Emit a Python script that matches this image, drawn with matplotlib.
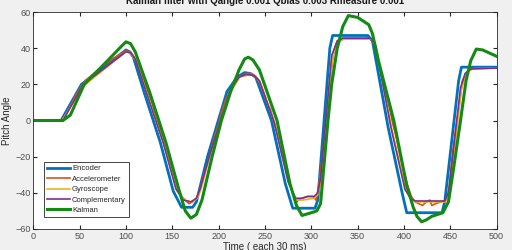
import matplotlib.pyplot as plt

plt.rcParams['font.family'] = ['Liberation Sans', 'DejaVu Sans']

# encoder (reference)
enc_t = [0, 30, 52, 100, 104, 108, 120, 137, 151, 160, 172, 176, 188, 209, 220, 228, 234, 240,
         257, 272, 280, 304, 307, 320, 323, 361, 366, 383, 398, 403, 441, 444, 459, 462, 500]
enc_y = [0, 0, 20, 39, 38, 35, 15, -12, -39, -48, -48, -45, -20, 16, 24, 26.5, 26, 24,
         0, -35, -48.5, -48.5, -44, 40, 47, 47, 44, -4, -40, -51, -51, -45, 22, 29.5, 29.5]

# accelerometer (noisy, stepped)
acc_t = [0, 30, 34, 40, 46, 52, 56, 70, 85, 100, 105, 110, 116, 120, 124, 128, 132, 136, 140,
         144, 148, 152, 156, 160, 164, 168, 172, 176, 180, 184, 188, 192, 196, 200, 204, 208,
         212, 216, 222, 230, 236, 242, 248, 252, 256, 260, 264, 268, 272, 276, 280, 283, 286,
         290, 296, 302, 305, 308, 312, 316, 320, 324, 328, 334, 364, 368, 372, 376, 380, 384,
         388, 392, 396, 400, 404, 408, 412, 416, 420, 424, 428, 430, 434, 440, 446, 449, 452,
         456, 460, 463, 468, 476, 500]
acc_y = [0, 0, 2, 8, 14, 19, 22, 28, 34, 38.5, 38, 34, 26, 22, 15, 10, 2, -4, -10,
         -18, -24, -32, -38, -42, -44, -46, -45, -43, -38, -30, -24, -16, -8, -2, 6, 12,
         16, 20, 24, 26, 26, 23, 16, 10, 6, -2, -8, -18, -26, -34, -40, -46, -44,
         -43, -42, -42, -44, -36, -20, 0, 20, 38, 44, 45.5, 45.5, 42, 34, 24, 16, 8,
         -2, -10, -20, -28, -36, -42, -45, -46, -47, -45, -44, -47, -46, -45, -44, -36, -20,
         -4, 10, 22, 27, 29, 29]

# gyroscope
gyr_t = [0, 31, 54, 100, 105, 111, 124, 141, 155, 163, 171, 177, 181, 192, 213, 223, 231, 239,
         245, 261, 276, 284, 291, 303, 307, 311, 323, 329, 335, 365, 370, 387, 402, 408, 413,
         445, 449, 462, 467, 473, 500]
gyr_y = [0, 0, 19, 38, 37, 33, 13, -13, -38, -44, -45, -43, -38, -17, 16, 24, 25, 25,
         21, -2, -35, -44, -44, -43, -41, -33, 35, 43, 45, 45, 41, -5, -38, -44, -45,
         -45, -40, 17, 26, 28.5, 29]

# complementary filter
com_t = [0, 32, 54, 100, 105, 110, 123, 140, 154, 162, 170, 176, 180, 191, 212, 222, 230, 238,
         244, 260, 275, 283, 290, 296, 303, 307, 310, 322, 328, 334, 364, 369, 386, 401, 407,
         412, 444, 448, 461, 466, 472, 500]
com_y = [0, 0, 20, 38, 37.5, 34, 14, -12, -38, -44, -45, -43, -38, -18, 16, 24, 25.5, 25,
         22, -1, -34, -43, -43, -42, -42, -40, -32, 36, 44, 45.5, 45.5, 42, -4, -38, -43,
         -44.5, -44.5, -40, 18, 26, 28.5, 29]

# kalman filter
kal_t = [0, 32, 40, 55, 80, 95, 100, 105, 110, 126, 143, 157, 164, 170, 176, 182, 193, 203,
         213, 222, 228, 232, 237, 244, 263, 277, 284, 290, 300, 306, 310, 318, 322, 328, 334,
         340, 350, 362, 366, 372, 389, 403, 410, 414, 419, 424, 430, 442, 448, 454, 461, 467,
         472, 478, 485, 500]
kal_y = [0, 0, 3, 20, 33, 41, 43.5, 42.5, 38, 15, -12, -38, -50, -54, -52, -44, -20, 0,
         16, 28, 34, 35, 33.5, 28, 0, -35, -47, -52.5, -51, -50, -46, 0, 20, 40, 52,
         58, 57, 53, 48, 34, 0, -36, -48, -53, -56, -55, -53, -51, -45, -25, 0, 22,
         33, 39.5, 39, 35.5]

fig = plt.figure(figsize=(5.12, 2.5), dpi=100, facecolor='#f0f0f0')
ax = fig.add_axes([0.065, 0.084, 0.905, 0.868])

ax.plot(enc_t, enc_y, color='#0072BD', lw=2.0, label='Encoder')
ax.plot(acc_t, acc_y, color='#D95319', lw=1.2, label='Accelerometer')
ax.plot(gyr_t, gyr_y, color='#EDB120', lw=1.2, label='Gyroscope')
ax.plot(com_t, com_y, color='#7E2F8E', lw=1.2, label='Complementary')
ax.plot(kal_t, kal_y, color='#138a13', lw=2.2, label='Kalman')

ax.set_xlim(0, 500)
ax.set_ylim(-60, 60)
ax.set_xticks(range(0, 501, 50))
ax.set_yticks(range(-60, 61, 20))
ax.tick_params(direction='in', length=3, labelsize=6.5, colors='#262626',
               labelcolor='#4d4d4d', top=True, right=True, pad=2)
for s in ax.spines.values():
    s.set_color('#262626')
    s.set_linewidth(0.6)

fig.text(0.518, 1 - 0.5 / 250, 'Kalman filter with Qangle 0.001 Qbias 0.003 Rmeasure 0.001',
         ha='center', va='center', fontsize=7, fontweight='bold', color='#1a1a1a')
ax.set_xlabel('Time ( each 30 ms)', fontsize=7, labelpad=1, color='#262626')
ax.set_ylabel('Pitch Angle', fontsize=7, color='#262626')
ax.yaxis.set_label_coords(-0.046, 0.5)

leg = ax.legend(loc='lower left', bbox_to_anchor=(0.024, 0.055), borderaxespad=0,
                fontsize=5.5, handlelength=2.9, handletextpad=0.3, labelspacing=0.4,
                fancybox=False, edgecolor='#262626', framealpha=1, borderpad=0.4)
leg.get_frame().set_linewidth(0.6)
for t in leg.get_texts():
    t.set_color('#262626')

fig.savefig('out.png', dpi=100, facecolor=fig.get_facecolor())
